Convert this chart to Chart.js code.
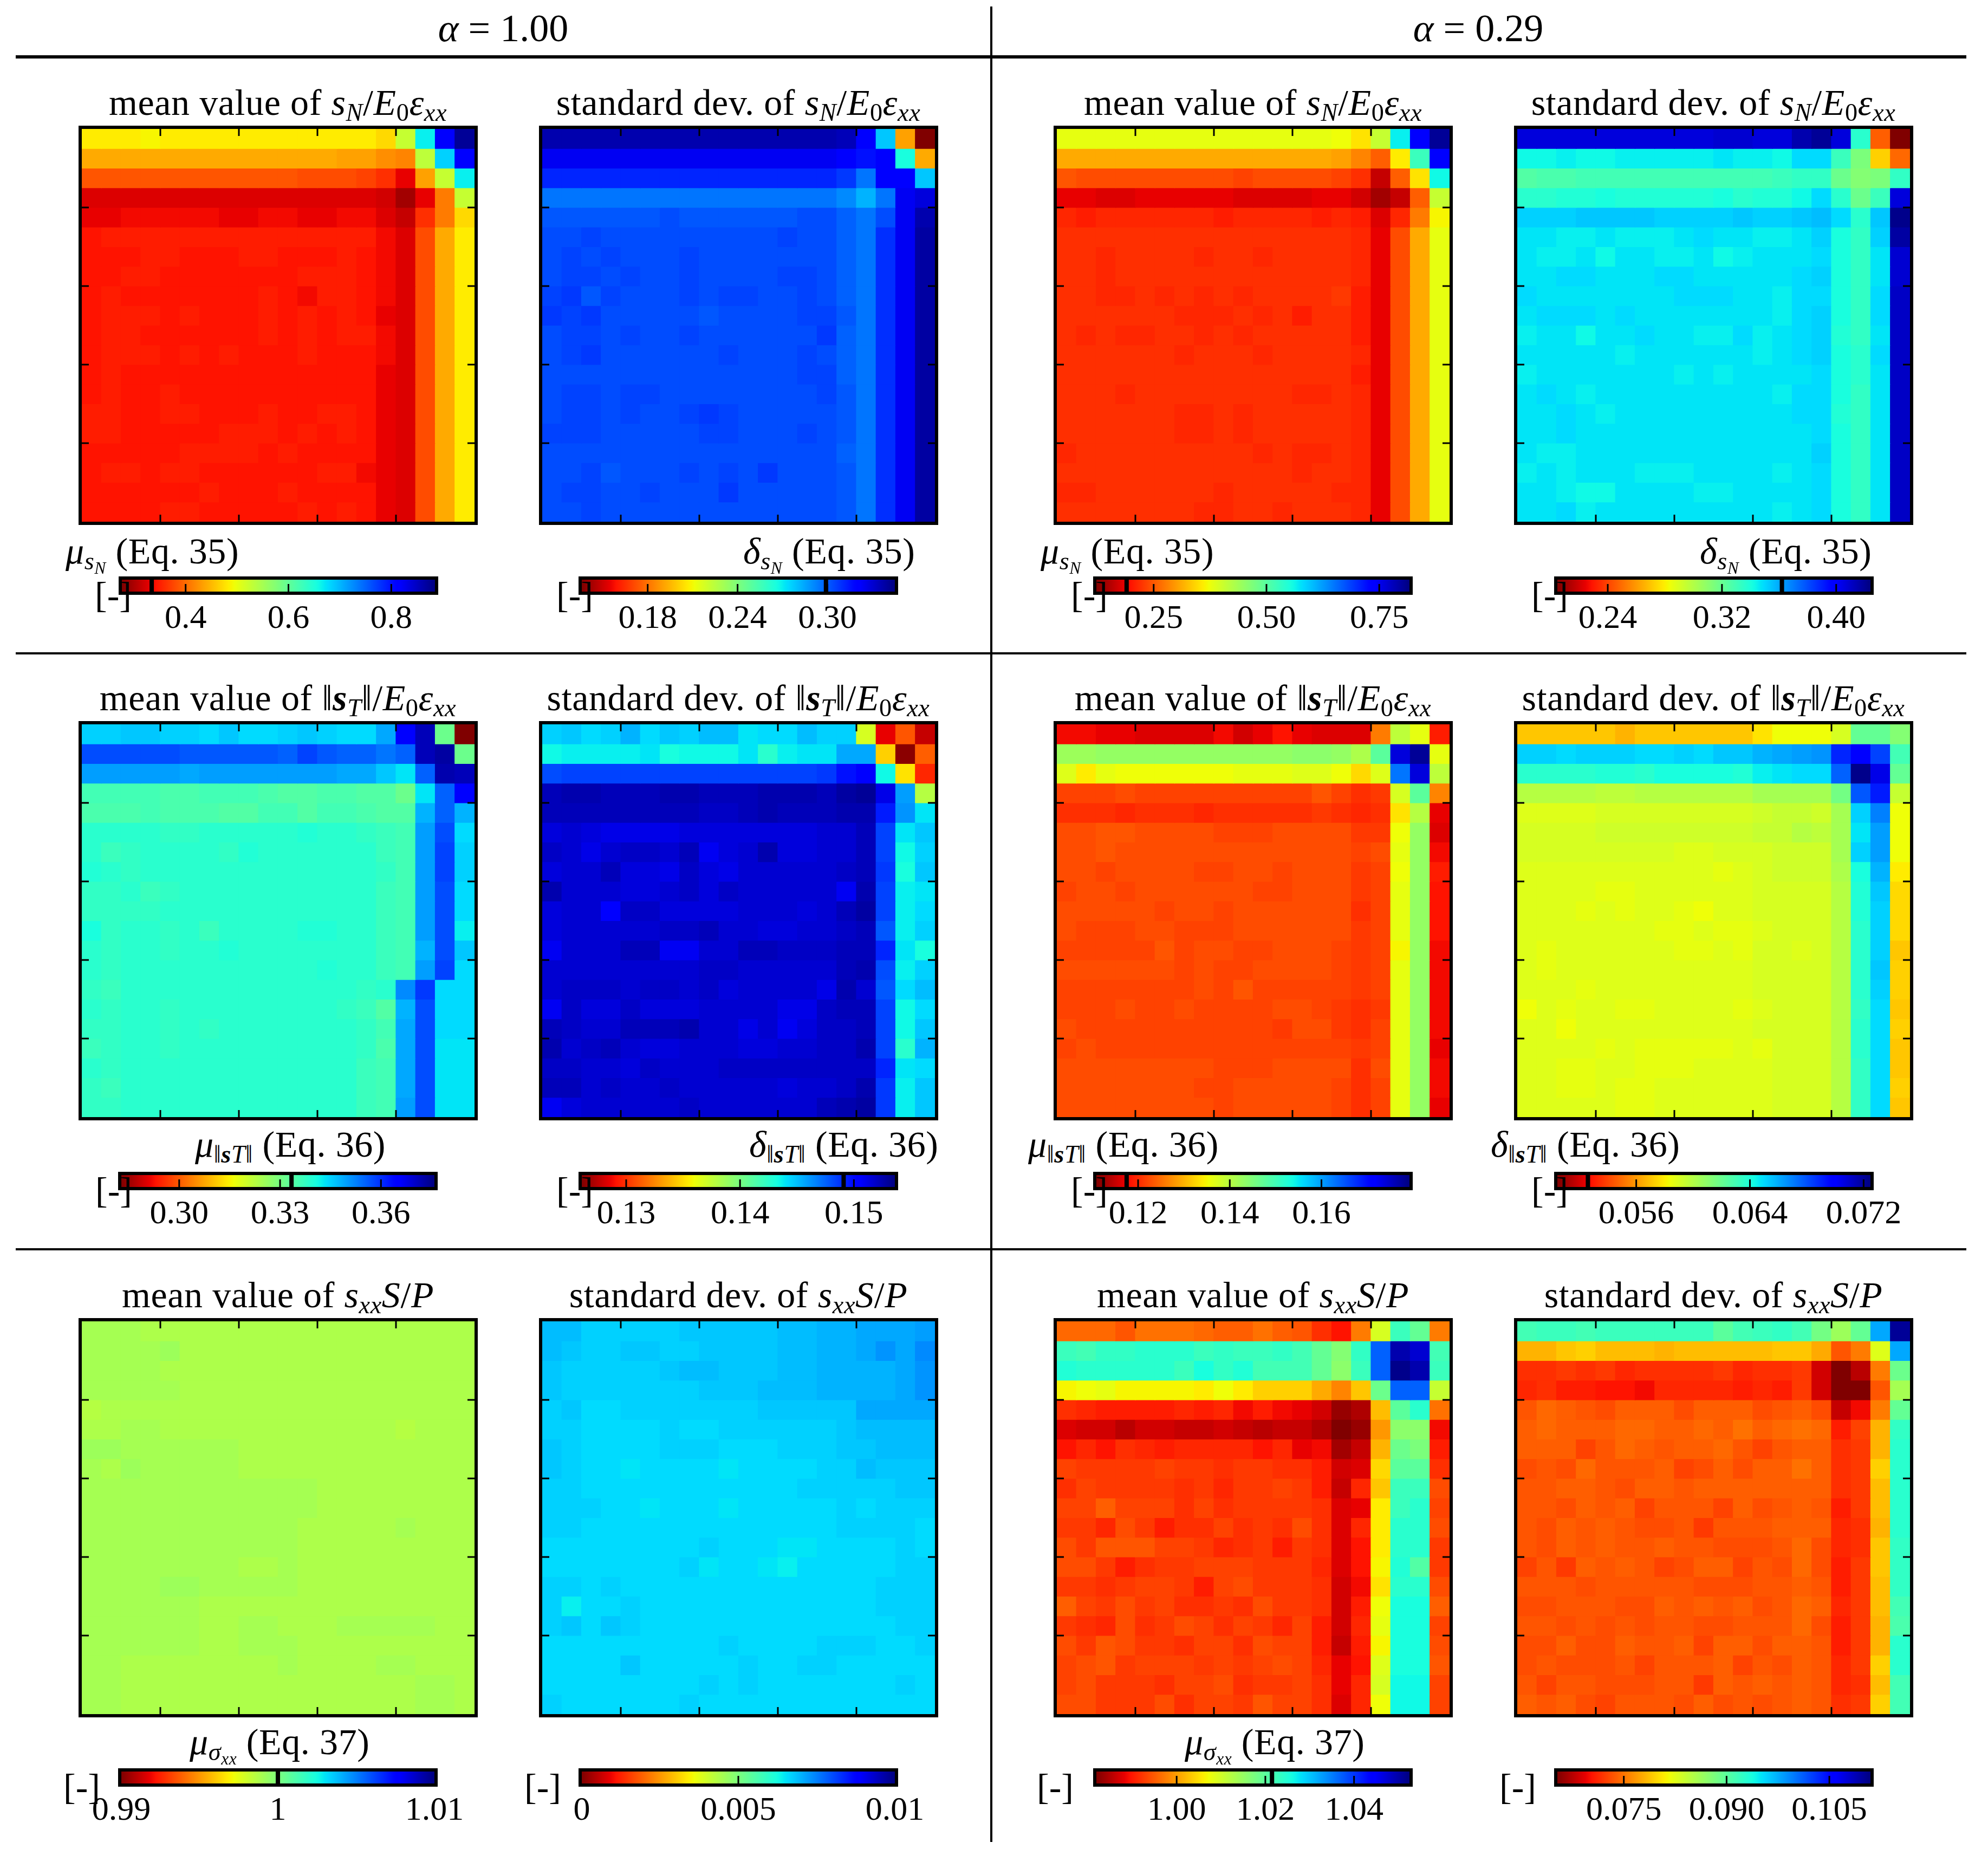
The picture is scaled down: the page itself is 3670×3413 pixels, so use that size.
<!DOCTYPE html>
<html>
<head>
<meta charset="utf-8">
<script src="https://cdn.jsdelivr.net/npm/chart.js@4"></script>
<style>
  html, body { margin: 0; background: #fff; }
  #page { position: relative; width: 3670px; height: 3413px; overflow: hidden; font-family: "Liberation Serif", serif; color: #000; }
  #page canvas { position: absolute; }
  .txt { position: absolute; white-space: nowrap; line-height: 1; }
  .rule { position: absolute; background: #000; }
  sub { font-size: .68em; vertical-align: -.24em; line-height: 0; }
</style>
</head>
<body>
<div id="page"></div>
<script>
// Rows run top to bottom, columns left to right.
const meanSnA100 = [
  [34,34,34,35,34,34,34,34,34,34,34,34,34,34,34,32,41,64,88,98],
  [27,27,27,27,27,27,27,27,27,27,27,27,27,26,26,24,23,42,67,88],
  [18,18,18,18,18,18,18,18,18,18,18,17,17,17,16,14,9,26,41,64],
  [8,8,8,8,8,8,8,8,8,8,8,8,8,8,8,7,3,9,22,41],
  [9,9,10,10,10,10,10,9,9,10,10,9,9,10,10,8,6,14,22,32],
  [11,12,12,12,12,12,12,12,12,12,12,12,12,12,12,10,8,17,27,34],
  [11,11,11,12,12,11,11,11,12,12,11,11,11,12,11,10,8,17,27,34],
  [11,11,12,12,11,11,11,11,11,11,11,12,12,12,11,10,8,17,27,34],
  [11,12,11,11,11,11,11,11,11,12,11,10,12,12,11,10,8,17,27,34],
  [11,12,12,12,11,12,11,11,11,12,11,12,11,12,11,9,8,17,27,34],
  [11,12,12,11,11,11,11,11,11,12,11,12,11,12,12,10,8,17,27,34],
  [11,12,12,12,11,12,11,12,11,11,11,12,11,11,11,10,8,17,27,34],
  [11,12,11,11,11,11,11,11,11,11,11,11,11,11,11,9,8,17,27,34],
  [11,12,11,11,12,11,11,11,11,11,11,11,11,11,11,9,8,17,27,34],
  [12,12,11,11,12,12,11,11,11,12,11,11,12,12,11,9,8,17,27,34],
  [12,12,11,11,11,11,11,12,12,12,11,12,11,12,11,9,8,17,27,34],
  [11,11,11,11,11,12,12,12,12,11,12,11,11,11,11,9,8,17,27,34],
  [11,12,12,11,12,12,11,11,11,11,11,11,12,12,10,9,8,17,27,34],
  [11,11,11,11,11,11,12,11,11,11,12,11,11,11,11,9,8,17,27,34],
  [11,11,11,11,12,12,11,11,11,11,11,12,11,12,11,9,8,17,27,34]
];
const stdSnA100 = [
  [96,96,96,96,96,96,96,96,96,96,96,96,96,96,96,95,89,68,26,0],
  [90,90,90,90,90,90,90,90,90,90,90,90,90,90,90,89,86,89,62,27],
  [84,84,84,84,84,84,84,84,84,84,84,84,84,84,84,82,76,88,89,68],
  [76,76,76,76,76,76,76,76,76,76,76,76,76,76,76,74,70,76,90,92],
  [79,79,79,79,79,79,80,79,79,79,79,79,79,80,80,78,76,80,90,96],
  [80,80,81,80,80,80,80,80,80,80,80,80,81,80,80,78,76,83,90,97],
  [80,81,80,81,80,80,80,81,80,80,80,80,80,80,80,78,76,83,90,97],
  [80,81,81,80,81,80,80,81,80,80,80,80,81,81,80,78,76,83,90,97],
  [81,82,79,81,80,80,80,81,80,81,81,80,80,81,80,78,76,83,90,97],
  [82,81,82,80,80,80,80,80,79,80,80,80,80,81,81,79,76,83,90,97],
  [80,81,81,80,81,80,80,81,80,80,80,80,80,80,82,78,76,83,90,97],
  [80,81,82,80,80,80,80,80,80,81,80,80,80,81,80,78,76,83,90,97],
  [80,80,80,80,80,80,80,80,80,80,80,80,80,81,81,78,76,83,90,97],
  [80,81,81,80,81,81,80,80,80,80,80,80,80,80,81,79,76,83,90,97],
  [80,81,81,80,81,80,80,81,82,81,80,80,80,80,80,79,76,83,90,97],
  [81,81,81,80,80,80,80,80,81,81,80,80,80,81,80,79,76,83,90,97],
  [80,80,80,80,80,80,80,80,80,80,80,80,80,80,80,78,76,83,90,97],
  [80,80,81,79,80,80,80,81,80,81,80,82,80,80,80,79,76,83,90,97],
  [80,81,81,80,80,81,80,80,80,82,80,80,80,80,80,79,76,83,90,97],
  [80,80,81,80,80,80,80,80,80,80,80,80,80,80,80,79,76,83,90,97]
];
const meanSnA29 = [
  [37,37,37,37,37,37,37,37,37,37,37,37,37,37,36,33,41,64,89,98],
  [27,27,27,27,27,27,27,27,27,27,27,27,27,27,26,23,19,34,58,89],
  [18,17,17,17,17,17,17,17,17,16,17,17,17,17,16,14,6,19,33,63],
  [9,9,8,8,9,9,9,9,9,8,8,8,8,9,9,7,3,6,19,41],
  [13,12,13,13,13,13,13,13,12,13,13,13,13,12,13,12,8,13,22,35],
  [14,14,14,14,14,14,14,14,14,14,14,14,14,14,14,13,9,17,27,37],
  [14,14,13,14,14,14,14,13,14,14,13,14,14,14,14,13,9,17,27,37],
  [14,14,13,14,14,14,14,14,14,14,14,14,14,14,14,13,9,17,27,37],
  [14,14,13,13,14,13,14,13,14,13,14,14,14,14,15,12,9,17,27,37],
  [14,14,14,14,14,14,13,13,13,14,13,14,12,14,14,12,9,17,27,37],
  [14,13,14,13,13,14,14,13,14,13,14,14,14,14,14,12,9,17,27,37],
  [14,14,14,14,14,14,13,14,14,14,13,14,14,14,14,13,9,17,27,37],
  [14,14,14,14,14,14,14,14,14,14,14,14,14,14,14,12,9,17,27,37],
  [14,14,14,13,14,14,14,14,14,14,14,14,13,13,14,13,9,17,27,37],
  [14,14,14,14,14,14,13,13,14,13,14,14,14,14,14,13,9,17,27,37],
  [14,14,14,14,14,14,13,13,14,13,14,14,14,14,14,13,9,17,27,37],
  [13,14,14,14,14,14,14,14,14,14,13,14,13,13,14,13,9,17,27,37],
  [14,14,14,14,14,14,14,14,14,14,14,14,13,14,14,13,9,17,27,37],
  [13,13,14,14,14,14,14,14,13,14,14,14,14,14,13,13,9,17,27,37],
  [14,14,14,14,14,14,14,13,13,14,14,13,14,14,14,13,9,17,27,37]
];
const stdSnA29 = [
  [92,92,92,92,92,92,92,92,92,92,93,93,92,92,96,98,92,60,19,0],
  [63,63,64,63,63,64,64,64,64,64,65,64,64,63,66,66,58,50,31,20],
  [55,56,56,57,57,57,57,57,57,57,57,57,57,58,59,59,52,49,50,59],
  [60,60,61,61,62,61,61,61,61,61,62,60,61,61,63,66,60,52,58,92],
  [67,67,67,68,68,68,68,67,67,67,67,68,67,67,68,69,66,60,68,99],
  [65,65,64,64,65,64,64,64,65,66,65,65,64,64,65,67,62,59,67,97],
  [65,64,64,65,63,65,65,64,64,65,63,64,65,65,65,66,62,59,65,93],
  [65,65,66,66,65,65,65,66,66,65,65,65,65,65,66,67,62,59,65,93],
  [66,65,65,65,65,65,65,65,66,66,66,65,65,64,66,66,62,59,66,94],
  [65,66,66,66,65,66,65,65,65,65,65,65,65,64,66,67,62,59,66,94],
  [64,65,65,63,65,65,66,65,65,64,64,66,64,65,66,67,61,59,65,94],
  [65,65,65,65,65,64,65,65,65,65,65,65,64,65,66,67,62,60,66,94],
  [64,65,65,65,65,65,65,65,64,65,64,65,65,65,65,66,62,60,65,94],
  [65,66,65,64,65,65,65,65,65,65,65,65,65,64,66,66,62,59,65,94],
  [65,65,66,65,64,65,65,65,65,65,65,65,65,65,66,66,61,59,65,94],
  [65,65,66,65,65,65,65,65,65,65,65,65,65,65,65,66,62,59,65,94],
  [65,64,64,65,65,65,65,65,65,65,65,65,65,65,65,67,62,59,65,94],
  [64,65,64,65,65,65,64,64,64,65,65,65,65,64,65,66,62,59,65,94],
  [65,65,64,63,63,65,65,65,65,64,64,65,65,65,65,66,62,59,65,94],
  [65,65,66,64,65,65,65,65,65,65,65,65,65,64,65,66,62,59,65,94]
];
const meanStA100 = [
  [67,67,68,68,67,67,66,68,66,66,67,68,67,66,66,71,89,95,52,0],
  [80,80,80,80,80,79,79,79,79,79,78,81,79,78,78,76,78,95,97,52],
  [72,72,72,72,72,71,72,72,72,72,72,72,72,71,71,68,65,78,96,95],
  [57,57,57,57,56,56,57,57,57,56,55,55,56,56,55,55,52,65,78,88],
  [56,56,56,57,56,56,56,55,55,57,57,55,57,57,56,55,55,70,78,70],
  [60,60,60,60,59,59,60,60,60,60,60,61,60,60,59,58,57,72,80,66],
  [60,58,59,60,60,60,60,59,61,60,60,60,60,60,60,58,57,72,81,67],
  [61,60,59,60,60,60,60,60,60,60,60,60,60,60,60,59,57,72,81,67],
  [59,59,60,58,59,60,60,60,60,60,60,60,60,60,60,58,57,72,80,66],
  [59,59,59,59,60,60,60,60,60,60,60,60,60,60,60,58,57,72,80,66],
  [62,59,60,60,59,60,58,60,60,60,60,61,61,60,60,58,57,72,80,64],
  [60,59,60,60,59,60,60,61,60,60,60,60,60,60,60,58,57,70,80,68],
  [60,59,60,60,60,60,60,60,60,60,60,60,61,60,60,58,57,72,81,66],
  [59,58,60,60,60,60,60,60,60,60,60,60,60,60,59,60,74,82,66,66],
  [60,59,60,60,59,60,60,60,60,60,60,60,60,59,58,55,70,80,66,66],
  [59,59,60,60,59,60,59,60,60,60,60,60,60,60,59,57,71,80,66,66],
  [58,59,60,60,59,60,60,60,60,60,60,60,60,60,59,56,71,80,65,65],
  [60,59,60,60,60,60,60,60,60,60,60,60,60,60,58,57,71,80,65,65],
  [59,58,60,60,60,60,60,60,60,60,60,60,60,60,58,57,71,80,65,65],
  [59,59,60,60,60,60,60,60,60,60,60,60,60,60,58,57,72,80,65,65]
];
// Rows 13-19 of the block above drift by a cell near the right edge; fixed per row below.
const stdStA100 = [
  [67,68,66,67,70,66,68,67,69,69,65,66,66,69,67,67,39,9,18,6],
  [63,64,64,64,64,65,62,63,63,63,65,60,64,65,65,71,71,31,1,19],
  [80,81,81,81,81,81,81,81,81,81,81,81,81,81,82,86,89,63,33,13],
  [95,96,96,95,95,95,96,96,95,95,95,96,96,96,95,97,98,91,72,43],
  [95,95,95,95,95,95,95,95,94,94,95,96,95,95,95,96,96,85,73,65],
  [92,93,92,91,91,91,91,92,92,92,92,92,92,92,93,93,95,81,65,68],
  [94,93,91,93,94,94,93,95,90,92,93,96,92,92,93,93,95,81,63,67],
  [92,93,93,95,92,92,91,94,92,91,93,93,93,93,93,94,95,82,62,68],
  [96,93,93,93,92,92,93,94,92,94,93,93,93,93,93,90,96,81,64,65],
  [92,93,93,89,94,94,92,92,92,92,93,93,93,92,93,95,97,81,64,66],
  [92,93,93,93,93,93,94,94,95,93,93,92,92,93,93,94,95,79,64,67],
  [90,93,93,93,95,95,90,90,93,93,95,95,94,94,94,95,95,84,65,62],
  [93,93,93,93,93,93,93,93,94,94,93,93,93,93,93,95,96,80,64,67],
  [93,94,94,94,93,94,94,93,94,92,93,93,93,93,91,96,93,79,66,69],
  [90,94,92,92,94,92,92,92,93,93,93,93,91,91,94,95,95,81,63,66],
  [95,94,93,93,95,95,95,96,93,93,91,93,90,92,94,94,95,81,63,68],
  [96,93,94,95,93,92,92,93,93,93,92,92,93,93,94,94,96,81,60,70],
  [94,94,93,93,92,94,93,93,93,94,94,94,94,94,94,94,94,84,65,66],
  [95,95,93,94,93,93,94,93,93,93,93,93,92,93,93,94,96,82,64,68],
  [90,92,93,93,93,93,93,94,93,93,93,93,93,93,95,96,97,82,64,68]
];
const meanStA29 = [
  [10,10,9,9,8,8,8,8,10,7,9,11,9,8,8,8,22,42,37,12],
  [46,46,47,47,47,47,47,47,47,47,47,47,48,48,47,44,54,92,98,37],
  [38,34,37,36,36,36,36,36,36,37,37,37,38,38,36,32,38,76,92,42],
  [16,16,16,17,16,16,16,16,16,16,16,16,16,18,16,14,15,39,54,23],
  [14,14,14,13,14,14,14,13,14,14,14,14,14,15,14,13,14,33,43,9],
  [17,17,18,18,17,17,17,17,16,16,16,17,17,17,17,15,15,36,47,8],
  [17,17,18,17,17,17,17,17,17,17,17,17,17,17,17,16,17,37,47,10],
  [17,17,16,17,17,17,17,16,16,17,17,16,17,17,17,15,16,36,47,12],
  [16,17,17,16,17,17,17,17,17,17,16,16,17,17,17,15,16,37,47,11],
  [17,17,17,17,17,16,17,17,16,17,17,17,17,17,17,14,16,37,47,11],
  [17,16,16,16,17,17,16,16,16,17,17,17,17,17,17,15,16,37,47,11],
  [16,16,16,16,16,18,16,17,17,16,16,17,17,17,16,15,16,35,47,10],
  [17,17,17,17,17,17,16,17,16,16,17,17,17,17,16,15,16,37,47,10],
  [16,16,16,16,16,16,16,17,16,18,16,16,16,16,16,15,16,37,47,10],
  [16,16,16,17,16,16,17,16,16,16,16,17,17,16,15,14,15,37,47,10],
  [17,16,16,16,16,16,16,16,16,16,16,15,17,17,15,14,16,37,47,10],
  [16,17,16,16,16,16,16,16,16,16,16,16,16,16,16,15,16,37,47,9],
  [17,17,17,17,17,17,17,17,16,16,16,17,17,17,17,14,17,37,47,10],
  [17,17,17,17,17,17,17,16,16,17,17,17,17,17,16,14,16,37,47,10],
  [17,17,17,17,17,17,17,17,16,17,17,17,17,17,16,14,16,37,47,9]
];
const stdStA29 = [
  [30,30,30,30,30,28,30,30,30,30,30,30,33,36,36,36,39,53,53,49],
  [67,67,66,67,67,67,66,66,67,66,68,68,70,71,72,73,84,89,81,57],
  [60,60,60,60,61,61,60,62,62,62,62,61,64,65,66,66,78,99,91,53],
  [43,43,43,43,42,42,43,43,43,43,43,43,45,45,45,45,51,79,85,41],
  [38,38,38,38,39,39,39,39,39,39,39,39,40,41,41,40,45,67,75,36],
  [39,39,39,39,40,40,40,40,40,40,40,40,41,41,43,42,45,65,72,36],
  [39,39,39,39,39,39,39,39,38,38,39,39,39,40,40,40,45,67,72,36],
  [38,38,38,38,38,38,38,38,38,38,37,38,39,40,40,40,44,62,70,34],
  [38,38,38,38,37,37,38,38,38,38,38,38,39,39,39,39,43,61,68,32],
  [38,38,38,37,38,37,38,38,37,36,38,38,39,39,39,39,43,61,67,32],
  [38,38,38,38,38,38,38,37,37,38,37,37,38,39,39,39,43,60,67,32],
  [38,37,38,38,38,38,38,38,37,37,38,37,39,39,38,39,43,60,67,30],
  [38,37,38,38,38,38,38,38,38,38,38,38,39,39,39,39,43,60,68,31],
  [38,38,38,37,38,38,38,38,38,38,38,38,39,39,39,39,43,60,67,31],
  [36,38,37,38,38,37,37,38,38,38,38,37,38,39,39,39,43,59,66,30],
  [38,38,36,38,38,38,38,38,38,38,38,38,39,39,39,39,43,60,66,31],
  [38,38,38,38,37,38,37,37,37,37,37,38,37,39,39,39,43,60,66,30],
  [38,38,37,37,38,38,37,37,37,38,38,38,38,39,39,39,43,59,66,30],
  [38,38,37,37,38,37,37,38,38,38,38,38,38,39,39,39,43,59,66,31],
  [38,38,38,38,38,37,37,38,38,38,38,38,38,39,39,39,43,59,66,30]
];
const meanSxxA100 = [
  [45,45,45,44,44,44,44,44,44,44,44,44,44,44,44,44,44,44,44,44],
  [45,45,45,45,46,44,44,44,44,44,44,44,44,44,44,44,44,44,44,44],
  [45,45,45,45,44,44,44,44,44,44,44,44,44,44,44,44,44,44,44,44],
  [45,45,45,45,45,44,44,44,44,44,44,44,44,44,44,44,44,44,44,44],
  [43,44,44,44,44,44,44,44,44,44,44,44,44,44,44,44,44,44,44,44],
  [44,44,45,45,44,44,44,44,44,44,44,44,44,44,44,44,43,44,44,44],
  [46,46,45,45,45,45,45,45,44,44,44,44,44,44,44,44,44,44,44,44],
  [45,44,46,45,45,45,45,45,44,44,44,44,44,44,44,44,44,44,44,44],
  [45,45,45,45,45,45,45,45,45,45,45,45,44,44,44,44,44,44,44,44],
  [45,45,45,45,45,45,45,45,45,45,45,45,44,44,44,44,44,44,44,44],
  [45,45,45,45,45,45,45,45,45,45,45,44,44,44,44,44,45,44,44,44],
  [45,45,45,45,45,45,45,45,45,45,45,44,44,44,44,44,44,44,44,44],
  [45,45,45,45,45,45,45,45,44,44,45,44,44,44,44,44,44,44,44,44],
  [45,45,45,45,46,46,45,45,45,45,45,44,44,44,44,44,44,44,44,44],
  [45,45,45,45,45,45,44,44,44,44,44,44,44,44,44,44,44,44,44,44],
  [45,45,45,45,45,45,44,44,45,45,44,44,44,45,45,45,45,45,44,44],
  [45,45,45,45,45,45,44,44,45,45,45,44,44,44,44,44,44,44,44,44],
  [45,45,44,44,44,44,44,44,44,44,45,44,44,44,44,45,45,44,44,44],
  [45,45,44,44,44,44,44,44,44,44,44,44,44,44,44,44,44,45,45,44],
  [45,45,44,44,44,44,44,44,44,44,44,44,44,44,44,44,44,45,45,44]
];
const stdSxxA100 = [
  [69,69,67,67,67,67,67,68,68,68,68,68,69,69,70,70,71,71,71,72],
  [69,68,67,67,68,68,67,67,68,68,68,68,69,69,70,70,71,73,71,74],
  [68,67,67,67,67,67,68,69,69,68,68,68,69,69,70,70,70,70,71,73],
  [68,67,67,67,67,67,67,67,68,68,68,69,69,69,70,70,70,70,71,73],
  [67,68,66,66,67,67,67,67,67,67,67,68,68,68,68,68,71,71,71,71],
  [67,67,66,66,66,66,67,66,66,67,67,67,67,67,67,68,69,69,69,69],
  [68,67,66,66,66,66,67,67,67,66,66,66,67,67,67,68,68,69,69,69],
  [68,67,66,66,65,66,66,66,66,65,66,66,66,66,67,67,69,68,68,68],
  [67,67,66,66,66,66,66,66,66,66,66,66,66,67,67,67,67,67,68,68],
  [67,67,67,66,66,65,66,66,66,65,66,66,66,66,66,67,66,67,67,67],
  [67,67,66,66,66,66,66,66,66,66,66,66,66,66,66,67,67,67,67,66],
  [66,66,66,66,66,66,66,66,67,66,66,66,65,65,66,66,66,66,67,66],
  [66,66,66,66,66,66,66,67,65,66,66,65,64,66,66,66,66,66,67,67],
  [67,67,66,67,66,66,66,66,66,66,66,66,66,66,66,66,66,67,67,67],
  [67,64,66,66,67,66,66,66,66,66,66,66,66,66,66,66,66,67,67,67],
  [67,68,66,68,67,66,66,66,66,66,66,66,66,66,66,66,66,66,67,67],
  [66,66,66,66,66,66,66,66,66,67,66,66,66,66,67,67,67,66,66,67],
  [66,66,66,66,68,66,66,66,66,66,67,66,66,67,67,66,66,66,66,66],
  [66,66,66,66,66,66,66,66,67,66,67,66,66,66,66,66,66,66,67,66],
  [67,66,66,66,66,66,66,67,66,66,66,66,66,66,66,66,66,66,66,66]
];
const meanSxxA29 = [
  [20,20,20,18,21,21,21,20,19,19,21,19,18,14,11,22,39,58,53,22],
  [58,57,59,59,60,60,60,58,59,58,58,59,57,53,49,59,78,96,93,57],
  [61,60,60,60,60,60,58,62,59,61,57,57,57,53,48,58,78,99,96,58],
  [35,36,37,35,35,35,35,34,36,34,31,31,31,27,23,30,52,78,78,41],
  [14,13,12,12,12,12,13,12,13,10,12,10,9,7,2,4,29,54,60,21],
  [8,7,7,5,7,7,6,6,7,6,5,6,6,4,0,2,25,48,48,10],
  [11,13,11,14,13,12,13,13,13,13,11,13,9,10,3,6,28,52,50,12],
  [16,15,15,15,15,16,15,15,14,15,15,14,14,12,7,8,32,54,54,14],
  [14,16,15,15,15,15,14,15,13,15,15,16,15,12,6,13,30,58,58,17],
  [16,16,19,16,16,16,14,16,14,15,15,15,15,14,8,9,34,58,60,16],
  [15,15,13,17,15,12,14,14,16,14,15,14,17,14,8,13,34,60,60,17],
  [17,15,18,18,18,16,16,15,13,14,15,12,15,14,8,11,34,60,60,15],
  [17,17,15,12,14,15,15,16,16,16,15,15,15,13,8,11,35,61,55,15],
  [15,15,14,15,16,16,15,12,16,17,15,15,15,14,7,10,33,60,60,17],
  [19,16,15,17,15,16,14,14,15,14,17,15,15,14,7,12,36,62,62,19],
  [15,14,13,17,14,15,17,16,14,16,15,13,16,12,7,13,37,62,62,16],
  [17,15,18,17,15,15,14,16,16,14,17,16,16,12,6,12,35,62,62,17],
  [16,17,18,15,16,16,16,15,16,15,16,17,16,13,9,11,38,62,62,18],
  [16,17,15,15,15,14,16,16,17,14,15,15,16,14,9,13,39,63,63,16],
  [17,17,15,15,15,17,14,16,16,15,18,16,16,14,8,13,36,63,63,16]
];
const stdSxxA29 = [
  [57,58,58,57,58,58,58,58,58,58,54,57,58,59,57,51,46,53,71,98],
  [28,28,30,31,29,29,29,28,29,29,29,29,29,30,30,27,18,22,38,71],
  [14,14,15,14,15,13,14,14,14,14,15,13,14,14,15,7,0,5,22,52],
  [13,14,12,12,11,11,10,13,13,13,13,12,13,12,15,7,0,0,18,45],
  [18,20,19,18,17,19,19,19,17,19,19,19,17,18,19,17,6,10,22,53],
  [19,20,19,19,19,20,20,19,19,20,19,21,19,20,21,20,12,16,28,59],
  [19,19,19,16,18,20,19,18,19,19,20,18,16,18,19,19,14,15,28,60],
  [17,18,17,20,18,18,18,19,16,17,19,17,19,19,21,19,14,15,31,60],
  [18,18,19,19,18,17,19,19,18,19,19,19,19,19,19,19,14,15,29,60],
  [18,18,17,19,18,19,16,18,18,18,16,19,17,18,19,18,12,15,29,60],
  [18,17,19,18,19,18,17,17,18,15,18,18,18,19,19,19,13,14,28,60],
  [18,17,19,18,19,18,18,19,18,18,17,17,17,18,20,17,13,14,30,59],
  [16,18,15,19,18,19,18,16,17,19,19,16,18,17,20,17,12,15,30,59],
  [18,18,18,17,18,18,18,18,18,17,17,17,18,18,19,18,12,15,29,59],
  [17,17,18,18,18,17,17,19,18,19,18,19,17,18,20,19,13,15,29,57],
  [18,18,17,18,17,18,17,18,18,17,17,18,18,18,20,17,12,15,28,56],
  [17,17,19,17,17,19,18,18,19,16,19,19,17,19,19,18,12,15,28,60],
  [17,18,17,17,17,18,16,18,18,18,19,16,18,17,19,18,13,15,31,60],
  [18,16,18,18,17,17,17,18,18,15,19,18,19,18,19,18,13,14,29,57],
  [19,18,19,17,16,18,18,18,17,19,17,18,17,18,19,18,14,15,31,57]
];

const panelValues = [meanSnA100, stdSnA100, meanSnA29, stdSnA29, meanStA100, stdStA100, meanStA29, stdStA29, meanSxxA100, stdSxxA100, meanSxxA29, stdSxxA29];

// colour bars: value range, tick values, tick labels and the thick marker value
const barMin = [0.276, 0.136, 0.123, 0.2047, 0.2828, 0.1261, 0.1109, 0.05045, 0.99, 0, 0.9819, 0.0653];
const barMax = [0.885, 0.345, 0.817, 0.424, 0.3759, 0.1536, 0.1792, 0.07248, 1.01, 0.01, 1.0525, 0.111];
const barTicks = [[0.4,0.6,0.8],[0.18,0.24,0.30],[0.25,0.5,0.75],[0.24,0.32,0.40],[0.30,0.33,0.36],[0.13,0.14,0.15],[0.12,0.14,0.16],[0.056,0.064,0.072],[0.99,1,1.01],[0,0.005,0.01],[1,1.02,1.04],[0.075,0.09,0.105]];
const barLabels = [['0.4','0.6','0.8'],['0.18','0.24','0.30'],['0.25','0.50','0.75'],['0.24','0.32','0.40'],['0.30','0.33','0.36'],['0.13','0.14','0.15'],['0.12','0.14','0.16'],['0.056','0.064','0.072'],['0.99','1','1.01'],['0','0.005','0.01'],['1.00','1.02','1.04'],['0.075','0.090','0.105']];
const barMarks = [0.334, 0.299, 0.19, 0.362, 0.3334, 0.1491, 0.1175, 0.0526, 1, null, 1.0215, null];

const columns = Array.from({ length: 20 }, (_, i) => String(i));
const cellTicks = [3.5, 7.5, 11.5, 15.5];

// text
const SN = '<i>s<sub>N</sub></i>';
const ST = '‖<b><i>s</i></b><sub><i>T</i></sub>‖';
const EPS = '/<i>E</i><sub>0</sub><i>ε<sub>xx</sub></i>';
const SXX = '<i>s<sub>xx</sub>S</i>/<i>P</i>';
const panelTitles = [
  `mean value of ${SN}${EPS}`, `standard dev. of ${SN}${EPS}`, `mean value of ${SN}${EPS}`, `standard dev. of ${SN}${EPS}`,
  `mean value of ${ST}${EPS}`, `standard dev. of ${ST}${EPS}`, `mean value of ${ST}${EPS}`, `standard dev. of ${ST}${EPS}`,
  `mean value of ${SXX}`, `standard dev. of ${SXX}`, `mean value of ${SXX}`, `standard dev. of ${SXX}`
];
const barNames = [
  `<i>μ<sub>s<sub>N</sub></sub></i> (Eq. 35)`, `<i>δ<sub>s<sub>N</sub></sub></i> (Eq. 35)`, `<i>μ<sub>s<sub>N</sub></sub></i> (Eq. 35)`, `<i>δ<sub>s<sub>N</sub></sub></i> (Eq. 35)`,
  `<i>μ</i><sub>‖<b><i>s</i></b><i>T</i>‖</sub> (Eq. 36)`, `<i>δ</i><sub>‖<b><i>s</i></b><i>T</i>‖</sub> (Eq. 36)`, `<i>μ</i><sub>‖<b><i>s</i></b><i>T</i>‖</sub> (Eq. 36)`, `<i>δ</i><sub>‖<b><i>s</i></b><i>T</i>‖</sub> (Eq. 36)`,
  `<i>μ<sub>σ<sub>xx</sub></sub></i> (Eq. 37)`, '', `<i>μ<sub>σ<sub>xx</sub></sub></i> (Eq. 37)`, ''
];

// layout, in page pixels
const FRAME_X = [145, 995, 1945, 2795];
const FRAME_Y = [232, 1331, 2433];
const BAR_X = [219, 1068, 2018, 2869, 218, 1068, 2018, 2869, 218, 1068, 2018, 2869];
const BAR_Y = [1064, 2163, 3264];
const NAME_X = [121, 1372, 1921, 3138, 360, 1383, 1898, 2752, 350, 0, 2187, 0];
const NAME_BASE = [1040, 2135, 3238];
const DASH_X = [175, 1027, 1977, 2827, 176, 1027, 1977, 2827, 117, 968, 1914, 2768];

const page = document.getElementById('page');

// matplotlib jet, reversed
function segment(v, pts) {
  for (let i = 1; i < pts.length; i++) {
    if (v <= pts[i][0]) {
      const [x0, y0] = pts[i - 1], [x1, y1] = pts[i];
      return y0 + (y1 - y0) * (v - x0) / (x1 - x0);
    }
  }
  return pts[pts.length - 1][1];
}
function jetR(pct) {
  const v = 1 - pct / 100;
  const r = segment(v, [[0,0],[0.35,0],[0.66,1],[0.89,1],[1,0.5]]);
  const g = segment(v, [[0,0],[0.125,0],[0.375,1],[0.64,1],[0.91,0],[1,0]]);
  const b = segment(v, [[0,0.5],[0.11,1],[0.34,1],[0.65,0],[1,0]]);
  return `rgb(${Math.round(r * 255)},${Math.round(g * 255)},${Math.round(b * 255)})`;
}

function addCanvas(x, y, w, h) {
  const c = document.createElement('canvas');
  c.width = w; c.height = h;
  c.style.cssText = `left:${x}px;top:${y}px;width:${w}px;height:${h}px`;
  page.appendChild(c);
  return c;
}
function addText(html, x, y, size, extra) {
  const d = document.createElement('div');
  d.className = 'txt';
  d.innerHTML = html;
  d.style.cssText = `left:${x}px;top:${y - size * 0.8375}px;font-size:${size}px;${extra || ''}`;
  page.appendChild(d);
}
function addRule(x, y, w, h) {
  const d = document.createElement('div');
  d.className = 'rule';
  d.style.cssText = `left:${x}px;top:${y}px;width:${w}px;height:${h}px`;
  page.appendChild(d);
}

const frameCells = {
  id: 'frameCells',
  afterDatasetsDraw(chart) {
    const { ctx, chartArea: a, scales: { x, y } } = chart;
    ctx.save();
    ctx.strokeStyle = '#000';
    ctx.lineWidth = 3;
    ctx.beginPath();
    cellTicks.forEach(t => {
      const px = x.getPixelForValue(t);
      ctx.moveTo(px, a.top); ctx.lineTo(px, a.top + 13);
      ctx.moveTo(px, a.bottom); ctx.lineTo(px, a.bottom - 13);
    });
    [4, 8, 12, 16].forEach(t => {
      const py = y.getPixelForValue(t);
      ctx.moveTo(a.left, py); ctx.lineTo(a.left + 13, py);
      ctx.moveTo(a.right, py); ctx.lineTo(a.right - 13, py);
    });
    ctx.stroke();
    ctx.lineWidth = 6;
    ctx.strokeRect(a.left - 3, a.top - 3, a.right - a.left + 6, a.bottom - a.top + 6);
    ctx.restore();
  }
};

function drawPanel(i, fx, fy) {
  const values = panelValues[i];
  new Chart(addCanvas(fx - 1, fy - 1, 739, 739), {
    type: 'bar',
    data: {
      labels: columns,
      datasets: values.map((row, r) => ({
        data: row.map(() => [r, r + 1]),
        backgroundColor: row.map(jetR),
        borderWidth: 0,
        inflateAmount: 0.6,
        grouped: false,
        barPercentage: 1,
        categoryPercentage: 1
      }))
    },
    options: {
      responsive: false,
      animation: false,
      devicePixelRatio: 1,
      layout: { padding: 7 },
      plugins: { legend: { display: false }, tooltip: { enabled: false } },
      scales: {
        x: { display: false },
        y: { display: false, min: 0, max: 20, reverse: true }
      }
    },
    plugins: [frameCells]
  });
}

const barFrame = {
  id: 'barFrame',
  afterDatasetsDraw(chart, args, opts) {
    const { ctx, chartArea: a, scales: { x } } = chart;
    ctx.save();
    ctx.strokeStyle = '#000';
    ctx.lineWidth = 3;
    ctx.beginPath();
    opts.ticks.forEach(t => {
      if (t <= x.min || t >= x.max) return;
      const px = x.getPixelForValue(t);
      ctx.moveTo(px, a.bottom); ctx.lineTo(px, a.bottom - 14);
    });
    ctx.stroke();
    if (opts.mark !== null) {
      ctx.lineWidth = 8;
      ctx.beginPath();
      const px = x.getPixelForValue(opts.mark);
      ctx.moveTo(px, a.top); ctx.lineTo(px, a.bottom);
      ctx.stroke();
    }
    ctx.lineWidth = 6;
    ctx.strokeRect(a.left - 3, a.top - 3, a.right - a.left + 6, a.bottom - a.top + 6);
    ctx.restore();
  }
};

function drawBar(i, bx, by) {
  const lo = barMin[i], hi = barMax[i];
  const side = 116;
  new Chart(addCanvas(bx - 110, by - 1, 810, 105), {
    type: 'bar',
    data: {
      labels: [''],
      datasets: [{
        data: [[lo, hi]],
        borderWidth: 0,
        barPercentage: 1,
        categoryPercentage: 1,
        inflateAmount: 0,
        backgroundColor: ctx => {
          const a = ctx.chart.chartArea;
          if (!a) return '#000';
          const grad = ctx.chart.ctx.createLinearGradient(a.left, 0, a.right, 0);
          for (let p = 0; p <= 100; p += 1) grad.addColorStop(p / 100, jetR(p));
          return grad;
        }
      }]
    },
    options: {
      indexAxis: 'y',
      responsive: false,
      animation: false,
      devicePixelRatio: 1,
      layout: { padding: { left: side, right: side, top: 7, bottom: 0 } },
      plugins: {
        legend: { display: false },
        tooltip: { enabled: false },
        barFrame: { ticks: barTicks[i], mark: barMarks[i] }
      },
      scales: {
        y: { display: false },
        x: {
          min: lo,
          max: hi,
          afterFit: s => { s.height = 76; },
          afterBuildTicks: s => { s.ticks = barTicks[i].map(v => ({ value: v })); },
          border: { display: false },
          grid: { display: false, drawTicks: false },
          ticks: {
            autoSkip: false,
            maxRotation: 0,
            padding: 14,
            color: '#000',
            font: { family: 'Liberation Serif', size: 62 },
            callback: (v, idx) => barLabels[i][idx]
          }
        }
      }
    },
    plugins: [barFrame]
  });
}

panelValues.forEach((_, i) => {
  const col = i % 4, row = Math.floor(i / 4);
  const fx = FRAME_X[col], fy = FRAME_Y[row];
  drawPanel(i, fx, fy);
  drawBar(i, BAR_X[i], BAR_Y[row]);
  addText(panelTitles[i], fx + 368, 212 + fy - 232, 68, 'transform:translateX(-50%);letter-spacing:.6px');
  if (barNames[i]) addText(barNames[i], NAME_X[i], NAME_BASE[row], 68, 'letter-spacing:.6px');
  addText('[-]', DASH_X[i], BAR_Y[row] + 57, 68, '');
});

addText('<i>α</i> = 1.00', 929, 76, 72, 'transform:translateX(-50%)');
addText('<i>α</i> = 0.29', 2729, 76, 72, 'transform:translateX(-50%)');

addRule(29, 102, 3601, 6);
addRule(29, 1204, 3601, 4);
addRule(29, 2304, 3601, 4);
addRule(1828, 12, 4, 3388);
</script>
</body>
</html>
